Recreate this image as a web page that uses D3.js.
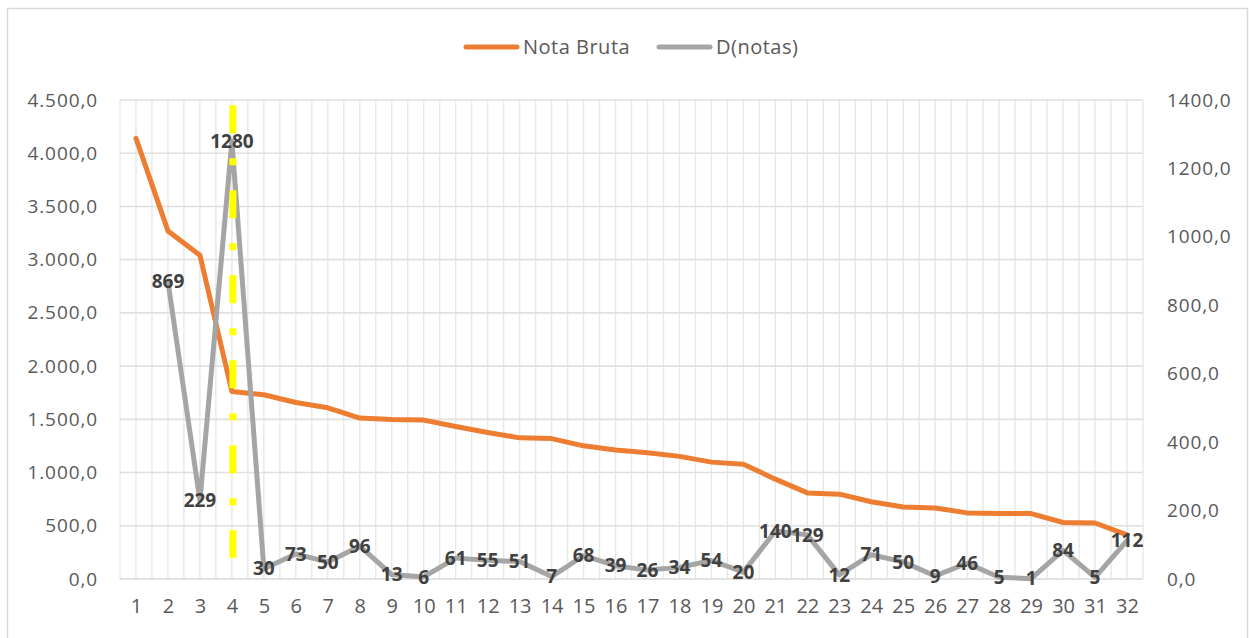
<!DOCTYPE html>
<html>
<head>
<meta charset="utf-8">
<script src="https://cdn.jsdelivr.net/npm/d3@7"></script>
<style>
  body { margin: 0; background: #fff; }
  svg { display: block; font-family: 'Open Sans', sans-serif; }
</style>
</head>
<body>
<div id="chart"></div>
<script>
// Categories (rank 1..32).
const categories = d3.range(1, 33)

// Nota Bruta (left axis).
const notaBruta = [4139, 3270, 3041, 1761, 1731, 1658, 1608, 1512, 1499, 1493, 1432, 1377,
  1326, 1319, 1251, 1212, 1186, 1152, 1098, 1078, 938, 809, 797, 726, 676, 667, 621, 616,
  615, 531, 526, 414]

// D(notas) (right axis), no value for the first one.
const dNotas = [null, 869, 229, 1280, 30, 73, 50, 96, 13, 6, 61, 55, 51, 7, 68, 39, 26, 34,
  54, 20, 140, 129, 12, 71, 50, 9, 46, 5, 1, 84, 5, 112]

// Axis ticks.
const leftTicks = d3.range(0, 4501, 500)
const rightTicks = d3.range(0, 1401, 200)

// Yellow cut marker: category and span on the left axis.
const cutCategory = 4
const cutSpan = [4450, 200]

const width = 1249, height = 638
const plotL = 120, plotR = 1143, plotT = 100, plotB = 579

const locale = d3.formatLocale({ decimal: ',', thousands: '.', grouping: [3], currency: ['', ''] })
const fmtLeft = locale.format(',.1f')
const fmtRight = locale.format('.1f')

const svg = d3.select('#chart')
  .append('svg')
    .attr('width', width)
    .attr('height', height)

// Chart frame.
svg.append('rect')
  .attr('x', 7.5).attr('y', 8.5)
  .attr('width', 1240).attr('height', 640)
  .attr('fill', '#fff')
  .attr('stroke', '#d9d9d9')
  .attr('stroke-width', 1.5)

const x = d3.scalePoint()
  .domain(categories)
  .range([plotL, plotR])
  .padding(0.5)
const step = x.step()

const yL = d3.scaleLinear().domain([0, 4500]).range([plotB, plotT])
const yR = d3.scaleLinear().domain([0, 1400]).range([plotB, plotT])

// Vertical gridlines every half category.
const vlines = d3.range(0, categories.length * 2 + 1).map(function(i) { return plotL + i * step / 2 })
svg.append('g')
  .selectAll('line')
  .data(vlines)
  .enter()
  .append('line')
    .attr('x1', function(d) { return d }).attr('x2', function(d) { return d })
    .attr('y1', plotT).attr('y2', plotB)
    .attr('stroke', '#e8e8e8')
    .attr('stroke-width', 1.4)

// Horizontal gridlines.
svg.append('g')
  .selectAll('line')
  .data(leftTicks)
  .enter()
  .append('line')
    .attr('x1', plotL).attr('x2', plotR)
    .attr('y1', function(d) { return yL(d) }).attr('y2', function(d) { return yL(d) })
    .attr('stroke', function(d) { return d === 0 ? '#d9d9d9' : '#e0e0e0' })
    .attr('stroke-width', 1.6)

// Left axis labels.
const leftAxis = svg.append('g')
  .attr('transform', 'translate(' + (plotL - 22) + ',0)')
  .call(d3.axisLeft(yL).tickValues(leftTicks).tickFormat(fmtLeft).tickSize(0).tickPadding(0))
leftAxis.select('.domain').remove()
leftAxis.selectAll('text')
  .attr('fill', '#595959')
  .style('font-size', '19px')
  .style('letter-spacing', '0.9px')
  .style('font-family', 'Open Sans')

// Right axis labels.
const rightAxis = svg.append('g')
  .attr('transform', 'translate(' + (plotR + 24) + ',0)')
  .call(d3.axisRight(yR).tickValues(rightTicks).tickFormat(fmtRight).tickSize(0).tickPadding(0))
rightAxis.select('.domain').remove()
rightAxis.selectAll('text')
  .attr('fill', '#595959')
  .style('font-size', '19px')
  .style('letter-spacing', '0.9px')
  .style('font-family', 'Open Sans')

// Category labels.
const bottomAxis = svg.append('g')
  .attr('transform', 'translate(0,' + (plotB + 20) + ')')
  .call(d3.axisBottom(x).tickSize(0).tickPadding(0))
bottomAxis.select('.domain').remove()
bottomAxis.selectAll('text')
  .attr('fill', '#595959')
  .style('font-size', '20px')
  .style('font-family', 'Open Sans')

// Nota Bruta line.
svg.append('path')
  .datum(notaBruta)
  .attr('d', d3.line()
    .x(function(d, i) { return x(categories[i]) })
    .y(function(d) { return yL(d) }))
  .attr('fill', 'none')
  .attr('stroke', '#ed7d31')
  .attr('stroke-width', 5)
  .attr('stroke-linejoin', 'round')
  .attr('stroke-linecap', 'round')

// D(notas) line.
svg.append('path')
  .datum(dNotas)
  .attr('d', d3.line()
    .defined(function(d) { return d !== null })
    .x(function(d, i) { return x(categories[i]) })
    .y(function(d) { return yR(d) }))
  .attr('fill', 'none')
  .attr('stroke', '#a5a5a5')
  .attr('stroke-width', 5)
  .attr('stroke-linejoin', 'round')
  .attr('stroke-linecap', 'round')

// Yellow dashed cut line.
svg.append('line')
  .attr('x1', x(cutCategory) + 1).attr('x2', x(cutCategory) + 1)
  .attr('y1', yL(cutSpan[0])).attr('y2', yL(cutSpan[1]))
  .attr('stroke', '#ffff00')
  .attr('stroke-width', 7)
  .attr('stroke-dasharray', '28,25,7,25')

// D(notas) data labels.
svg.append('g')
  .selectAll('text')
  .data(dNotas.map(function(d, i) { return { c: categories[i], v: d } })
    .filter(function(d) { return d.v !== null }))
  .enter()
  .append('text')
    .attr('x', function(d) { return x(d.c) })
    .attr('y', function(d) { return yR(d.v) })
    .attr('dy', '0.35em')
    .attr('text-anchor', 'middle')
    .attr('fill', '#404040')
    .style('font-size', '19px')
    .style('font-weight', 'bold')
    .text(function(d) { return d.v })

// Legend.
const legend = [
  { name: 'Nota Bruta', color: '#ed7d31', x: 464 },
  { name: 'D(notas)', color: '#a5a5a5', x: 657 }
]
const item = svg.append('g')
  .selectAll('g')
  .data(legend)
  .enter()
  .append('g')
    .attr('transform', function(d) { return 'translate(' + d.x + ',47)' })
item.append('line')
  .attr('x1', 2).attr('x2', 53)
  .attr('stroke', function(d) { return d.color })
  .attr('stroke-width', 5)
  .attr('stroke-linecap', 'round')
item.append('text')
  .attr('x', 59)
  .attr('dy', '0.35em')
  .attr('fill', '#595959')
  .style('font-size', '20px')
  .style('letter-spacing', '0.5px')
  .text(function(d) { return d.name })
</script>
</body>
</html>
